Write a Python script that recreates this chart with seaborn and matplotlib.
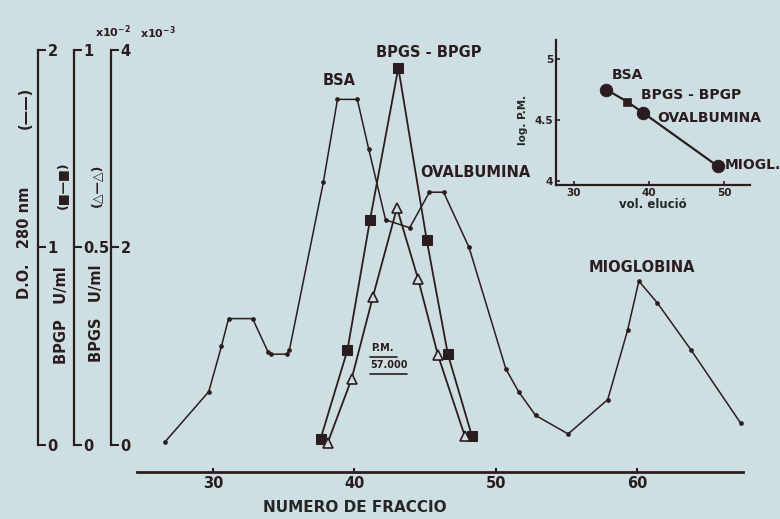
#------------------------------------------
# Cromatografia: D.O. 280 nm, BPGP y BPGS
#------------------------------------------

import matplotlib
matplotlib.use("Agg")
import matplotlib.pyplot as plt
import seaborn as sns

# D.O. 280 nm (linea con puntos)
fraccion_do = [26.6, 29.7, 30.6, 31.1, 32.8, 33.9, 34.1, 35.2, 35.4, 37.8, 38.8, 40.2,
               41.0, 42.2, 43.9, 45.3, 46.3, 48.1, 50.7, 51.6, 52.8, 55.1, 57.9, 59.3,
               60.1, 61.4, 63.8, 67.3]
do_280 = [0.015, 0.27, 0.50, 0.64, 0.64, 0.47, 0.46, 0.46, 0.48, 1.33, 1.75, 1.75,
          1.50, 1.14, 1.10, 1.28, 1.28, 1.00, 0.385, 0.27, 0.15, 0.056, 0.23, 0.58,
          0.83, 0.72, 0.48, 0.11]

# BPGP U/ml x10^-2 (cuadrados)
fraccion_bpgp = [37.6, 39.5, 41.1, 43.1, 45.1, 46.6, 48.3]
bpgp = [0.015, 0.24, 0.57, 0.955, 0.52, 0.23, 0.023]

# BPGS U/ml x10^-3 (triangulos)
fraccion_bpgs = [38.1, 39.8, 41.3, 43.0, 44.5, 45.9, 47.8]
bpgs = [0.02, 0.67, 1.50, 2.40, 1.68, 0.91, 0.09]

# recuadro: log P.M. vs vol. elucion
nombres_ins = ["BSA", "BPGS - BPGP", "OVALBUMINA", "MIOGL."]
vol_elucion = [34.3, 37.1, 39.2, 49.2]
log_pm = [4.75, 4.65, 4.56, 4.12]

fondo = "#cddfe2"
tinta = "#2b1d1f"

sns.set_theme(style="ticks")
plt.rcParams["font.family"] = ["DejaVu Sans"]
plt.rcParams["font.weight"] = "bold"
plt.rcParams["text.color"] = tinta
plt.rcParams["axes.edgecolor"] = tinta
plt.rcParams["xtick.color"] = tinta
plt.rcParams["ytick.color"] = tinta


def fx(px):
    return px / 780


def fy(py):
    return 1 - py / 519


fig = plt.figure(figsize=(7.8, 5.19), dpi=100, facecolor=fondo)

#-------------------
# 1. Eje principal
#-------------------
ax = fig.add_axes([fx(137), fy(472), fx(743) - fx(137), fy(40) - fy(472)])
ax.set_facecolor("none")
y0, y1 = -0.1367, 2.0506
ax.set_xlim(24.63, 67.46)
ax.set_ylim(y0, y1)

ax2 = ax.twinx()
ax2.set_ylim(y0 / 2, y1 / 2)
ax3 = ax.twinx()
ax3.set_ylim(y0 * 2, y1 * 2)

sns.lineplot(x=fraccion_do, y=do_280, ax=ax, sort=False, estimator=None,
             color=tinta, lw=1.1, marker="o", ms=2.6, mec=tinta, mfc=tinta)
sns.lineplot(x=fraccion_bpgp, y=bpgp, ax=ax2, sort=False, estimator=None,
             color=tinta, lw=1.3, marker="s", ms=6.5, mec=tinta, mfc=tinta)
sns.lineplot(x=fraccion_bpgs, y=bpgs, ax=ax3, sort=False, estimator=None,
             color=tinta, lw=1.3, marker="^", ms=7, mec=tinta, mfc=fondo, mew=1.2)

# ejes verticales a la izquierda
ejes = [(ax, -0.1634, [0, 1, 2], ["0", "1", "2"], (0, 2)),
        (ax2, -0.104, [0, 0.5, 1], ["0", "0.5", "1"], (0, 1)),
        (ax3, -0.0429, [0, 2, 4], ["0", "2", "4"], (0, 4))]
for a, pos, ticks, labels, lim in ejes:
    for s in ["top", "right", "bottom"]:
        a.spines[s].set_visible(False)
    a.spines["left"].set_visible(True)
    a.spines["left"].set_position(("axes", pos))
    a.spines["left"].set_bounds(*lim)
    a.spines["left"].set_linewidth(1.6)
    a.yaxis.set_ticks_position("left")
    a.set_yticks(ticks)
    a.set_yticklabels(labels)
    a.tick_params(axis="y", direction="in", length=6, width=1.5, pad=-7, labelsize=10.5)
    for lab in a.get_yticklabels():
        lab.set_horizontalalignment("left")
        lab.set_fontweight("bold")
    a.set_ylabel("")

ax.spines["bottom"].set_visible(True)
ax.spines["bottom"].set_linewidth(2)
ax.set_xticks([30, 40, 50, 60])
ax.tick_params(axis="x", direction="in", length=3, width=1.5, pad=3, labelsize=10.5)
for lab in ax.get_xticklabels():
    lab.set_fontweight("bold")
ax.set_xlabel("NUMERO DE FRACCIO", fontsize=11, fontweight="bold")
ax.xaxis.set_label_coords((355 - 137) / 606, -(500 - 472) / 432)

# rotulos de picos
rotulos = [("BSA", 38.9, 1.848), ("BPGS - BPGP", 45.25, 1.985),
           ("OVALBUMINA", 48.56, 1.382), ("MIOGLOBINA", 60.28, 0.901)]
for t, x, y in rotulos:
    ax.text(x, y, t, ha="center", va="center", fontsize=10.5, fontweight="bold")

ax.text(42.0, 0.491, "P.M.", ha="center", va="center", fontsize=7, fontweight="bold")
ax.text(42.42, 0.405, "57.000", ha="center", va="center", fontsize=7, fontweight="bold")
ax.plot([41.1, 43.0], [0.445, 0.445], color=tinta, lw=1.2)
ax.plot([41.1, 43.7], [0.36, 0.36], color=tinta, lw=1.2)

# etiquetas de los ejes verticales
fig.text(fx(25), fy(243), "D.O.   280 nm", rotation=90, ha="center", va="center",
         fontsize=10.5, fontweight="bold")
fig.text(fx(25), fy(108), "(——)", rotation=90, ha="center", va="center",
         fontsize=10.5, fontweight="bold")
fig.text(fx(62), fy(315), "BPGP   U/ml", rotation=90, ha="center", va="center",
         fontsize=10.5, fontweight="bold")
fig.text(fx(62), fy(185), "(■—■)", rotation=90, ha="center", va="center",
         fontsize=9, fontweight="bold")
fig.text(fx(97), fy(313), "BPGS   U/ml", rotation=90, ha="center", va="center",
         fontsize=10.5, fontweight="bold")
fig.text(fx(97), fy(185), "(△—△)", rotation=90, ha="center", va="center",
         fontsize=9, fontweight="bold")
fig.text(fx(95), fy(32), r"x10$^{-2}$", ha="left", va="center", fontsize=8, fontweight="bold")
fig.text(fx(140), fy(33), r"x10$^{-3}$", ha="left", va="center", fontsize=8, fontweight="bold")

#------------
# 2. Recuadro
#------------
ins = fig.add_axes([fx(556), fy(185), fx(750) - fx(556), fy(40) - fy(185)])
ins.set_facecolor("none")
ins.set_xlim(27.6, 53.47)
ins.set_ylim(3.967, 5.156)
sns.lineplot(x=vol_elucion, y=log_pm, ax=ins, sort=False, estimator=None,
             color=tinta, lw=1.6)
sns.scatterplot(x=[vol_elucion[i] for i in (0, 2, 3)], y=[log_pm[i] for i in (0, 2, 3)],
                ax=ins, s=80, color=tinta, edgecolor=tinta, zorder=3)
sns.scatterplot(x=[vol_elucion[1]], y=[log_pm[1]], ax=ins, marker="s", s=35,
                color=tinta, edgecolor=tinta, zorder=3)
desplaz = [(0.8, 0.12), (1.8, 0.055), (1.9, -0.04), (0.9, 0.01)]
for n, x, y, (dx, dy) in zip(nombres_ins, vol_elucion, log_pm, desplaz):
    ins.text(x + dx, y + dy, n, ha="left", va="center", fontsize=10, fontweight="bold")

sns.despine(ax=ins)
ins.spines["left"].set_linewidth(1.6)
ins.spines["bottom"].set_linewidth(1.6)
ins.set_xticks([30, 40, 50])
ins.set_yticks([4, 4.5, 5])
ins.set_yticklabels(["4", "4.5", "5"])
ins.tick_params(direction="in", length=3, width=1.2, pad=2, labelsize=7.5)
for lab in ins.get_xticklabels() + ins.get_yticklabels():
    lab.set_fontweight("bold")
ins.set_xlabel("vol. elució", fontsize=8.5, fontweight="bold", labelpad=0)
ins.set_ylabel("log. P.M.", fontsize=7.5, fontweight="bold")
ins.yaxis.set_label_coords((528 - 556) / 194, (185 - 120) / 145)

fig.savefig("out.png", dpi=100, facecolor=fondo)
